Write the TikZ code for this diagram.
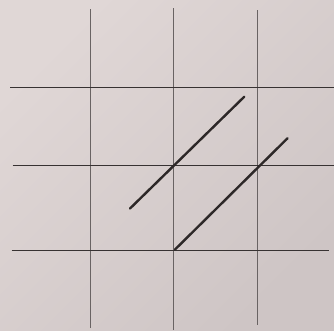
\documentclass[tikz,border=0pt]{standalone}
\begin{document}
\begin{tikzpicture}[x=1pt,y=-1pt,
  vline/.style={draw=vcol, line width=1pt},
  hline/.style={draw=hcol, line width=1.3pt},
  dline/.style={draw=dcol, line width=2.4pt, line cap=round}]
\definecolor{bgA}{RGB}{224,215,214}
\definecolor{bgB}{RGB}{206,197,197}
\definecolor{vcol}{RGB}{105,99,99}
\definecolor{hcol}{RGB}{55,50,50}
\definecolor{dcol}{RGB}{45,40,40}
\shade[top color=bgA, bottom color=bgB, shading angle=45] (0,0) rectangle (334,330);
\useasboundingbox (0,0) rectangle (334,330);
% vertical grid lines
\draw[vline] (90,9) -- (90,328);
\draw[vline] (173.5,8) -- (173.5,330);
\draw[vline] (257,10) -- (257,325);
% horizontal grid lines
\draw[hline] (10,87.5) -- (334,87.5);
\draw[hline] (12.5,165.7) -- (334,165.7);
\draw[hline] (11.5,250.5) -- (329,250.5);
% diagonals
\coordinate (a1) at (130,208.5);
\coordinate (a2) at (244.3,96.7);
\coordinate (b1) at (175,249.5);
\coordinate (b2) at (287.5,138.3);
\draw[dline] (a1) -- (a2);
\draw[dline] (b1) -- (b2);
\end{tikzpicture}
\end{document}
